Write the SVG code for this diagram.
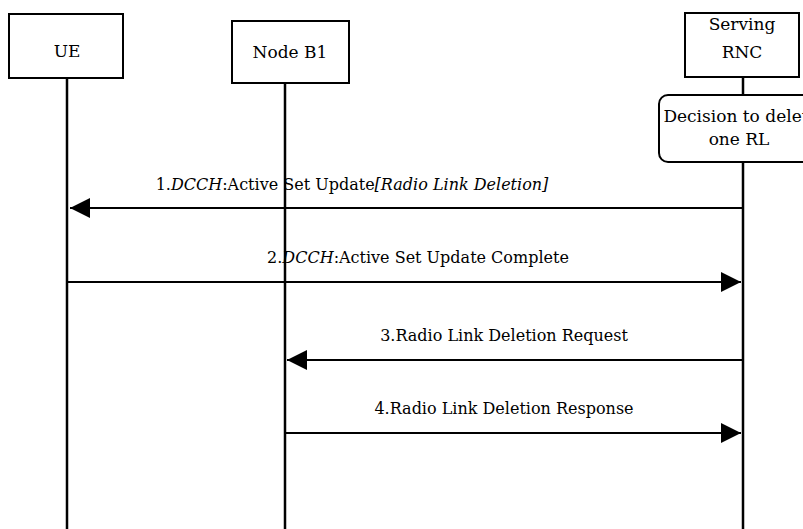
<svg xmlns="http://www.w3.org/2000/svg" width="803" height="529" viewBox="0 0 803 529">
<style>
  .box { fill: #fff; stroke: #000; stroke-width: 2; }
  .life { stroke: #000; stroke-width: 2.5; fill: none; }
  .msg { stroke: #000; stroke-width: 2; fill: none; marker-end: url(#ah); }
  text { font-family: "DejaVu Serif", serif; font-size: 17px; fill: #000; }
  .m { font-size: 16px; }
  .c { text-anchor: middle; }
  .i { font-style: italic; }
</style>
<defs>
  <marker id="ah" markerUnits="userSpaceOnUse" markerWidth="22" markerHeight="22" refX="20" refY="10" orient="auto">
    <path d="M0,0 L20,10 L0,20 z" fill="#000"/>
  </marker>
</defs>
<rect width="803" height="529" fill="#fff"/>
<g id="lifelines">
  <line class="life" x1="67" y1="78" x2="67" y2="529" stroke-width="3"/>
  <line class="life" x1="285" y1="83" x2="285" y2="529"/>
  <line class="life" x1="743" y1="77" x2="743" y2="529"/>
</g>
<g id="UE">
  <rect class="box" x="9" y="14" width="114" height="64"/>
  <text class="c" x="67" y="57">UE</text>
</g>
<g id="NodeB1">
  <rect class="box" x="232" y="21" width="117" height="62"/>
  <text class="c" x="290" y="58" font-size="16">Node B1</text>
</g>
<g id="ServingRNC">
  <rect class="box" x="685" y="13" width="114" height="64"/>
  <text class="c" x="742" y="30">Serving</text>
  <text class="c" x="742" y="58">RNC</text>
</g>
<g id="Decision">
  <rect class="box" x="659" y="95" width="170" height="67" rx="9" ry="9"/>
  <text class="c" x="741" y="122">Decision to delete</text>
  <text class="c" x="739" y="145">one RL</text>
</g>
<g id="connectors">
  <line class="msg" x1="743" y1="208" x2="70" y2="208"/>
  <line class="msg" x1="67" y1="282" x2="741" y2="282"/>
  <line class="msg" x1="743" y1="360" x2="287" y2="360"/>
  <line class="msg" x1="285" y1="433" x2="741" y2="433"/>
  <text class="c m" x="352" y="190">1.<tspan class="i">DCCH</tspan>:Active Set Update<tspan class="i">[Radio Link Deletion]</tspan></text>
  <text class="c m" x="418" y="263">2.<tspan class="i">DCCH</tspan>:Active Set Update Complete</text>
  <text class="c m" x="504" y="341">3.Radio Link Deletion Request</text>
  <text class="c m" x="504" y="414">4.Radio Link Deletion Response</text>
</g>
</svg>
